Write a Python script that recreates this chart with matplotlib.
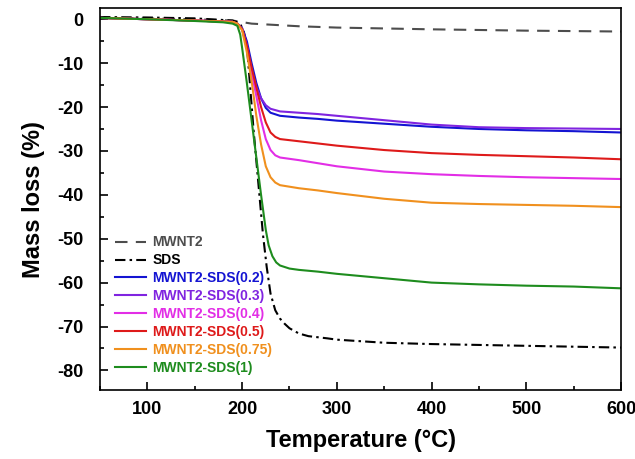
import numpy as np
import matplotlib
matplotlib.use("Agg")
import matplotlib.pyplot as plt
from matplotlib.ticker import MultipleLocator

plt.rcParams["font.family"] = ["Liberation Sans", "DejaVu Sans"]
plt.rcParams["font.weight"] = "bold"
plt.rcParams["axes.unicode_minus"] = False

# TGA curves: temperature (C), mass loss (%)
t_mwnt2 = [50, 100, 150, 190, 210, 260, 300, 350, 400, 450, 500, 550, 600]
m_mwnt2 = [0.3, 0.2, 0.0, -0.3, -1.0, -1.6, -1.9, -2.1, -2.3, -2.45, -2.6, -2.7, -2.8]

t_sds = [50, 100, 150, 190, 198, 202, 205, 208, 212, 217, 222, 226, 230, 235, 240,
         245, 250, 260, 270, 290, 300, 350, 400, 500, 600]
m_sds = [0.5, 0.4, 0.2, -0.3, -1.0, -3.0, -6.0, -14.0, -25.0, -37.0, -49.0, -56.5,
         -62.5, -66.3, -68.2, -69.4, -70.4, -71.6, -72.2, -72.7, -73.0, -73.7, -74.0,
         -74.4, -74.8]

t_s02 = [50, 100, 150, 190, 195, 200, 205, 210, 215, 220, 225, 230, 240, 260, 280,
         300, 350, 400, 450, 500, 550, 600]
m_s02 = [0.3, 0.0, -0.3, -0.6, -1.0, -2.0, -5.0, -10.0, -14.5, -18.0, -20.2, -21.3,
         -22.0, -22.4, -22.7, -23.1, -23.8, -24.5, -25.0, -25.3, -25.5, -25.8]

t_s03 = [50, 100, 150, 190, 195, 200, 205, 210, 215, 220, 225, 230, 240, 260, 280,
         300, 350, 400, 450, 500, 550, 600]
m_s03 = [0.3, 0.0, -0.3, -0.6, -1.2, -2.2, -6.0, -11.5, -15.5, -18.0, -19.6, -20.4,
         -21.0, -21.3, -21.6, -22.0, -23.0, -24.0, -24.6, -24.8, -24.9, -25.0]

t_s04 = [50, 100, 150, 190, 195, 200, 205, 210, 215, 220, 225, 230, 235, 240, 260,
         280, 300, 350, 400, 450, 500, 550, 600]
m_s04 = [0.3, 0.0, -0.3, -0.6, -1.0, -2.3, -6.5, -12.0, -17.5, -23.0, -27.3, -29.8,
         -31.0, -31.5, -32.1, -32.8, -33.5, -34.7, -35.3, -35.7, -36.0, -36.2, -36.4]

t_s05 = [50, 100, 150, 190, 195, 200, 205, 210, 215, 220, 225, 230, 235, 240, 260,
         280, 300, 350, 400, 450, 500, 550, 600]
m_s05 = [0.3, 0.0, -0.3, -0.6, -1.0, -2.2, -6.0, -11.0, -15.5, -20.0, -23.5, -25.8,
         -26.8, -27.3, -27.8, -28.3, -28.8, -29.8, -30.5, -30.9, -31.2, -31.5, -31.9]

t_s075 = [50, 100, 150, 190, 195, 200, 205, 210, 215, 220, 225, 230, 235, 240, 260,
          280, 300, 350, 400, 450, 500, 550, 600]
m_s075 = [0.3, 0.0, -0.3, -0.6, -1.0, -2.5, -7.5, -14.0, -22.0, -28.5, -33.5, -36.0,
          -37.2, -37.8, -38.5, -39.0, -39.6, -40.9, -41.8, -42.1, -42.3, -42.5, -42.8]

t_s1 = [50, 100, 150, 180, 190, 195, 198, 200, 205, 210, 215, 220, 225, 228, 232,
        236, 240, 250, 260, 280, 300, 350, 400, 450, 500, 550, 600]
m_s1 = [0.3, 0.0, -0.4, -0.7, -1.0, -1.5, -3.5, -6.5, -14.5, -23.0, -31.5, -40.0,
        -48.0, -51.5, -54.0, -55.4, -56.1, -56.8, -57.1, -57.5, -58.0, -59.0, -60.0,
        -60.4, -60.7, -60.9, -61.3]

series = [
    ("MWNT2", t_mwnt2, m_mwnt2, "#4d4d4d", (0, (6, 4))),
    ("SDS", t_sds, m_sds, "black", (0, (5, 2, 1.2, 2))),
    ("MWNT2-SDS(0.2)", t_s02, m_s02, "#1414d2", "-"),
    ("MWNT2-SDS(0.3)", t_s03, m_s03, "#8024e0", "-"),
    ("MWNT2-SDS(0.4)", t_s04, m_s04, "#e22ee6", "-"),
    ("MWNT2-SDS(0.5)", t_s05, m_s05, "#de1a1a", "-"),
    ("MWNT2-SDS(0.75)", t_s075, m_s075, "#f0901e", "-"),
    ("MWNT2-SDS(1)", t_s1, m_s1, "#1e8c1e", "-"),
]

fig = plt.figure(figsize=(6.35, 4.59), dpi=100)
ax = fig.add_axes([0.1575, 0.150, 0.8205, 0.832])

for name, t, m, c, ls in series:
    ax.plot(t, m, color=c, ls=ls, lw=1.5, label=name)

ax.set_xlim(50, 600)
ax.set_ylim(-84.5, 2.5)
ax.xaxis.set_major_locator(MultipleLocator(100))
ax.xaxis.set_minor_locator(MultipleLocator(50))
ax.yaxis.set_major_locator(MultipleLocator(10))
ax.yaxis.set_minor_locator(MultipleLocator(5))
ax.tick_params(which="both", direction="in", width=1.2, labelsize=13)
ax.tick_params(which="major", length=6)
ax.tick_params(which="minor", length=3)
ax.tick_params(axis="x", pad=8)
ax.tick_params(axis="y", pad=12)
for sp in ax.spines.values():
    sp.set_linewidth(1.2)

ax.set_xlabel("Temperature (\u00b0C)", fontsize=17, fontweight="bold", labelpad=8)
ax.set_ylabel("Mass loss (%)", fontsize=17, fontweight="bold", labelpad=9)

leg = ax.legend(loc="upper left", bbox_to_anchor=(0.029, 0.405), frameon=False,
                fontsize=10, handlelength=2.2, handletextpad=0.5,
                labelspacing=0.28, borderpad=0, borderaxespad=0)
for txt, (name, t, m, c, ls) in zip(leg.get_texts(), series):
    txt.set_color(c)
    txt.set_fontweight("bold")

plt.savefig("out.png", dpi=100)
